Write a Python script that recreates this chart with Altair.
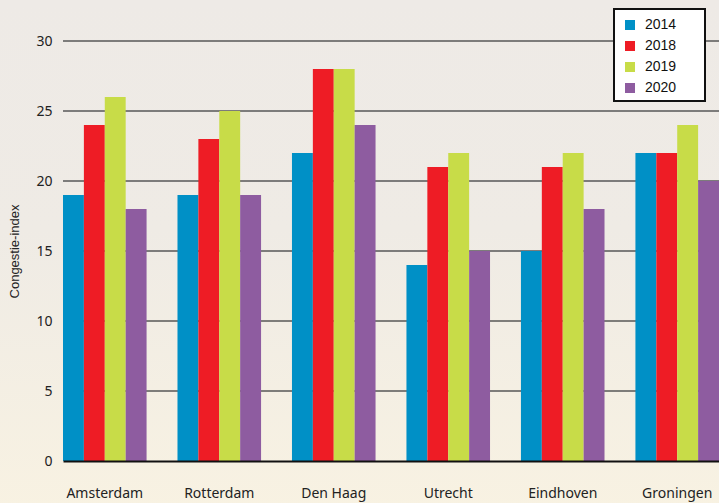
import altair as alt
import pandas as pd

cities = ["Amsterdam", "Rotterdam", "Den Haag", "Utrecht", "Eindhoven", "Groningen"]
years = ["2014", "2018", "2019", "2020"]
colors = ["#0090c6", "#ee1c25", "#c8dc48", "#8e5ca0"]

v2014 = [19, 19, 22, 14, 15, 22]
v2018 = [24, 23, 28, 21, 21, 22]
v2019 = [26, 25, 28, 22, 22, 24]
v2020 = [18, 19, 24, 15, 18, 20]

grid_values = [5, 10, 15, 20, 25, 30]

rows = []
for year, vals in zip(years, [v2014, v2018, v2019, v2020]):
    for city, v in zip(cities, vals):
        rows.append({"stad": city, "jaar": year, "index": v})
df = pd.DataFrame(rows)

W, H = 656, 420
LEFT, TOP = 63, 41

y_scale = alt.Scale(domain=[0, 30], nice=False)
x_scale = alt.Scale(domain=cities, paddingInner=0.27, paddingOuter=0)

# page background: soft grey at the top fading into cream
bg_gradient = alt.Gradient(
    gradient="linear",
    stops=[alt.GradientStop(color="#eeeae6", offset=0),
           alt.GradientStop(color="#efebe5", offset=0.45),
           alt.GradientStop(color="#f8f2e2", offset=1)],
    x1=0, x2=0, y1=0, y2=1,
)
background = alt.Chart(pd.DataFrame({"a": [0]})).mark_rect(
    fill=bg_gradient, clip=False
).encode(
    x=alt.value(-LEFT), x2=alt.value(W + 10),
    y=alt.value(-TOP), y2=alt.value(H + 50),
)

grid = alt.Chart(pd.DataFrame({"v": grid_values})).mark_rule(
    color="#575757", strokeWidth=1.5
).encode(y=alt.Y("v:Q", scale=y_scale))

bars = alt.Chart(df).mark_bar(opacity=1).encode(
    x=alt.X("stad:N", sort=cities, scale=x_scale,
            axis=alt.Axis(title=None, labelAngle=0, labelFontSize=14,
                          labelPadding=25, ticks=False, domain=True,
                          domainColor="#111111", domainWidth=2,
                          labelColor="#222222", labelFont="Noto Sans",
                          zindex=1)),
    xOffset=alt.XOffset("jaar:N", sort=years),
    y=alt.Y("index:Q", scale=y_scale,
            axis=alt.Axis(title="Congestie-index", values=[0, 5, 10, 15, 20, 25, 30],
                          grid=False, domain=False, ticks=False,
                          labelPadding=11, labelFontSize=14, labelColor="#222222",
                          labelFont="Noto Sans",
                          titleFontSize=13, titleFontWeight="normal",
                          titleFont="Liberation Sans", titleColor="#222222",
                          titleX=-49, titleY=H / 2, titleAngle=-90,
                          titleBaseline="middle", titleAlign="center",
                          zindex=1)),
    color=alt.Color("jaar:N", sort=years,
                    scale=alt.Scale(domain=years, range=colors),
                    legend=alt.Legend(title=None, orient="none",
                                      legendX=560, legendY=-23,
                                      symbolType="square", symbolSize=100,
                                      symbolStrokeWidth=0, labelFontSize=14,
                                      labelFont="Liberation Sans", labelColor="#111111",
                                      labelOffset=8, rowPadding=7, padding=0)),
)

legend_box = alt.Chart(pd.DataFrame({"a": [0]})).mark_rect(
    fill="white", stroke="#111111", strokeWidth=2, clip=False
).encode(
    x=alt.value(614 - LEFT), x2=alt.value(705 - LEFT),
    y=alt.value(9 - TOP), y2=alt.value(101 - TOP),
)

chart = alt.layer(background, grid, bars, legend_box).properties(
    width=W, height=H,
    autosize=alt.AutoSizeParams(type="none"),
    padding={"left": LEFT, "top": TOP, "right": 0, "bottom": 503 - TOP - H},
).configure_view(stroke=None).configure(background="#f3efe5")

chart.save("out.html", embed_options={"renderer": "svg", "actions": False})
